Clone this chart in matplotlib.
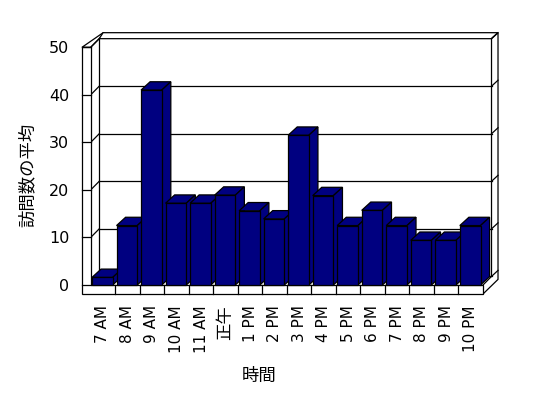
import numpy as np
import matplotlib
matplotlib.use('Agg')
import matplotlib.pyplot as plt
from matplotlib.patches import Polygon

plt.rcParams['font.family'] = ['DejaVu Sans', 'Noto Sans CJK JP']

# データ
hours = ['7 AM', '8 AM', '9 AM', '10 AM', '11 AM', '正午', '1 PM', '2 PM',
         '3 PM', '4 PM', '5 PM', '6 PM', '7 PM', '8 PM', '9 PM', '10 PM']
visits = [1.6, 12.5, 41.0, 17.2, 17.2, 18.9, 15.6, 13.9,
          31.5, 18.8, 12.5, 15.7, 12.5, 9.4, 9.4, 12.5]
yticks = [0, 10, 20, 30, 40, 50]

navy = '#000080'
n = len(hours)
ymax = yticks[-1]

# 奥行き (データ単位)
DX, DY = 0.347, 1.81      # 床・壁の奥行き
TX, TY = 0.265, 1.26      # 奥の壁の厚み
WL, FL = 0.355, 1.89      # 左の壁の厚み, 床の厚み
BDX, BDY = 0.37, 1.75     # 棒の奥行き
bw, boff = 0.845, 0.053   # 棒の幅, 左の余白

fig = plt.figure(figsize=(5.48, 3.98), dpi=100)
ax = fig.add_axes([0.1655, 0.2839, 0.7159, 0.5973])
ax.set_xlim(0, n)
ax.set_ylim(0, ymax)
for s in ax.spines.values():
    s.set_visible(False)
ax.patch.set_visible(False)

lw = 0.9
kw = dict(closed=True, facecolor='white', edgecolor='black', lw=lw, clip_on=False)

# 左の壁と床の正面
ax.add_patch(Polygon([(-WL, -FL), (n, -FL), (n, 0), (0, 0), (0, ymax), (-WL, ymax)], zorder=1, **kw))
# 左の壁の上面
ax.add_patch(Polygon([(-WL, ymax), (0, ymax), (DX, ymax + DY),
                      (DX + TX - WL + 0.3, ymax + DY + TY), (-WL + DX + TX + 0.25, ymax + DY + TY)],
                     zorder=0.9, **kw))
# 奥の壁の上面
ax.add_patch(Polygon([(DX, ymax + DY), (n + DX, ymax + DY), (n + DX + TX, ymax + DY + TY),
                      (-WL + DX + TX + 0.25, ymax + DY + TY)], zorder=0.9, **kw))
# 右側 (床と奥の壁の厚み)
ax.add_patch(Polygon([(n, -FL), (n, 0), (n + DX, DY), (n + DX, ymax + DY),
                      (n + DX + TX, ymax + DY + TY), (n + DX + TX, -FL + DY + TY)], zorder=0.9, **kw))

# 目盛線
for v in yticks:
    if 0 < v < ymax:
        ax.plot([DX, n + DX], [v + DY, v + DY], color='black', lw=lw, zorder=0.95, clip_on=False)
    ax.plot([0, DX], [v, v + DY], color='black', lw=lw, zorder=0.95, clip_on=False)
    ax.plot([-WL, 0], [v, v], color='black', lw=lw, zorder=1.1, clip_on=False)
    ax.plot([n + DX, n + DX + TX], [v + DY, v + DY + TY], color='black', lw=lw, zorder=0.95, clip_on=False)
ax.plot([DX, DX], [DY, ymax + DY], color='black', lw=lw, zorder=0.95, clip_on=False)
ax.plot([DX, n + DX], [DY, DY], color='black', lw=lw, zorder=0.95, clip_on=False)

# 床の区切り
for i in range(1, n):
    ax.plot([i, i], [-FL, 0], color='black', lw=lw, zorder=1.1, clip_on=False)

# 棒の上面と側面
for i, v in enumerate(visits):
    x0 = i + boff
    x1 = x0 + bw
    ax.add_patch(Polygon([(x0, v), (x1, v), (x1 + BDX, v + BDY), (x0 + BDX, v + BDY)],
                         closed=True, facecolor=navy, edgecolor='black', lw=lw, zorder=2, clip_on=False))
    ax.add_patch(Polygon([(x1, 0), (x1 + BDX, BDY), (x1 + BDX, v + BDY), (x1, v)],
                         closed=True, facecolor=navy, edgecolor='black', lw=lw, zorder=2, clip_on=False))

# 棒の正面
ax.bar(np.arange(n) + boff + bw / 2, visits, width=bw, color=navy, edgecolor='black',
       lw=lw, zorder=3, clip_on=False)

ax.set_xticks(np.arange(n) + 0.5, hours, rotation=90, fontsize=11)
ax.set_yticks(yticks, [str(t) for t in yticks], fontsize=11.5)
ax.tick_params(axis='x', length=0, pad=14.4)
ax.tick_params(axis='y', length=0, pad=15.4)
for lab in ax.get_xticklabels():
    if lab.get_text() == '正午':
        lab.set_fontsize(12.5)

ax.text(-0.16, 0.463, '訪問数の平均', transform=ax.transAxes, rotation=90,
        ha='center', va='center', fontsize=12.5)
ax.text(0.429, -0.383, '時間', transform=ax.transAxes, ha='center', va='center', fontsize=12.5)

fig.savefig('out.png', dpi=100)
